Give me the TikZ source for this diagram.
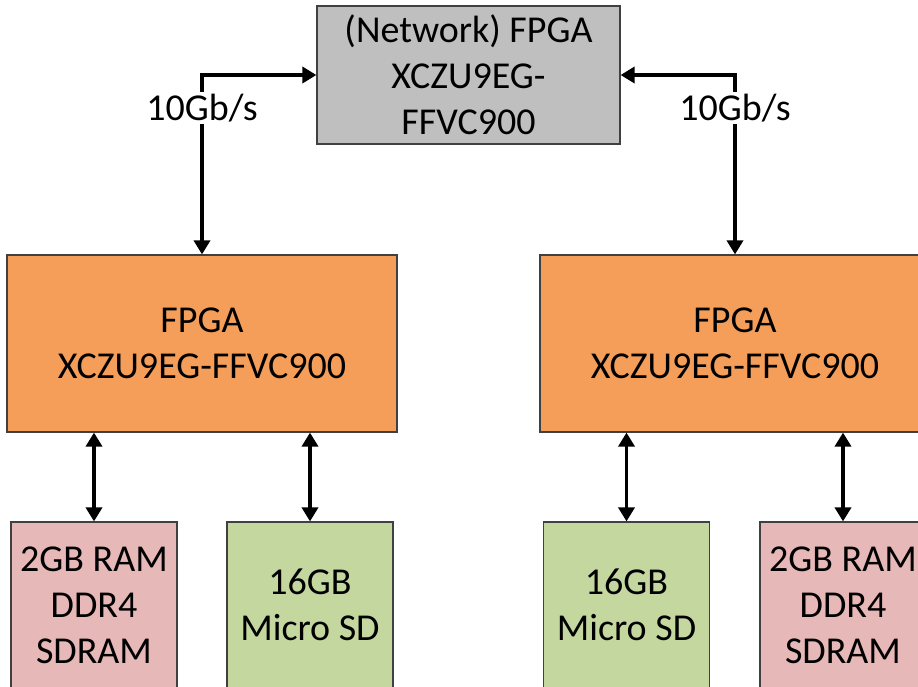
\documentclass[tikz,border=0pt]{standalone}
\usepackage{fontspec}
\setmainfont{Carlito}
\usetikzlibrary{arrows.meta}
\definecolor{grayfill}{HTML}{BFBFBF}
\definecolor{orangefill}{HTML}{F49E59}
\definecolor{pinkfill}{HTML}{E6B8B7}
\definecolor{greenfill}{HTML}{C4D79F}
\definecolor{edgecol}{HTML}{404040}
\begin{document}
\begin{tikzpicture}[x=1pt,y=-1pt,
  box/.style={draw=edgecol,line width=1.2pt,align=center,inner sep=0pt,
    font=\fontsize{38}{46}\selectfont},
  arr/.style={line width=3.5pt,{Triangle[length=14pt,width=16pt]}-{Triangle[length=14pt,width=16pt]}},
  lbl/.style={fill=white,inner sep=2pt,font=\fontsize{38}{44}\selectfont}]
\useasboundingbox (0,0) rectangle (918,686);
\begin{scope}
\clip (0,0) rectangle (918,686);
\node[box,fill=grayfill,minimum width=303pt,minimum height=138pt] (net) at (468.5,75) {(Network) FPGA\\XCZU9EG-\\FFVC900};
\node[box,fill=orangefill,minimum width=390pt,minimum height=177pt] (lo) at (202,343.5) {FPGA\\XCZU9EG-FFVC900};
\node[box,fill=orangefill,minimum width=390pt,minimum height=177pt] (ro) at (735,343.5) {FPGA\\XCZU9EG-FFVC900};
\node[box,fill=pinkfill,minimum width=166pt,minimum height=166pt] (lp) at (94,605) {2GB RAM\\DDR4\\SDRAM};
\node[box,fill=greenfill,minimum width=166pt,minimum height=166pt] (lg) at (310,605) {16GB\\Micro SD};
\node[box,fill=greenfill,minimum width=166pt,minimum height=166pt] (rg) at (626.5,605) {16GB\\Micro SD};
\node[box,fill=pinkfill,minimum width=166pt,minimum height=166pt] (rp) at (843,605) {2GB RAM\\DDR4\\SDRAM};
\end{scope}
\draw[arr] (lo.north) |- (net.west);
\draw[arr] (ro.north) |- (net.east);
\node[lbl] (ll) at (202,108) {10Gb/s};
\node[lbl] (rl) at (735,108) {10Gb/s};
\draw[arr] (lp.north) -- (lp.north |- lo.south);
\draw[arr] (lg.north) -- (lg.north |- lo.south);
\draw[arr] (rg.north) -- (rg.north |- ro.south);
\draw[arr] (rp.north) -- (rp.north |- ro.south);
\end{tikzpicture}
\end{document}
